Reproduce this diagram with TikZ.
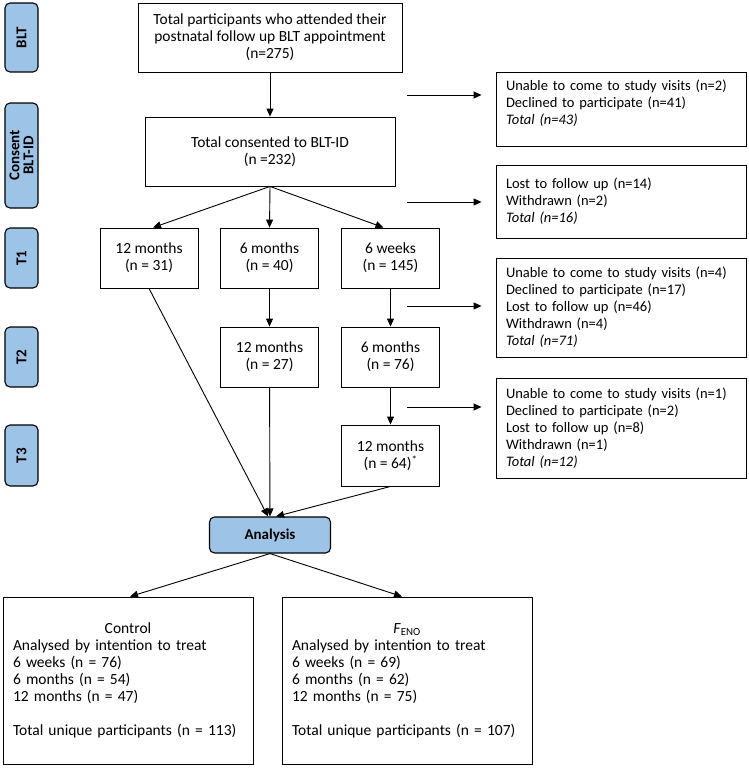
\documentclass[tikz,border=0pt]{standalone}
\usepackage{fontspec}
\setmainfont{Carlito}
\usetikzlibrary{arrows.meta}
\definecolor{phaseblue}{RGB}{157,195,230}
\begin{document}
\begin{tikzpicture}[x=1pt,y=-1pt,font=\fontsize{15.5}{17}\selectfont,
    box/.style={draw, line width=0.9pt, align=center, inner sep=0pt},
    stage/.style={box, minimum width=98pt, minimum height=60pt},
    phase/.style={draw, line width=1.1pt, fill=phaseblue, rounded corners=5pt, rotate=90, minimum height=33pt, inner sep=0pt, align=center, font=\fontsize{15}{14}\selectfont\bfseries},
    excl/.style={draw, line width=0.9pt, text width=230pt, align=left, inner xsep=10pt, inner ysep=0pt, font=\fontsize{14.5}{17}\selectfont},
    arr/.style={-{Triangle[length=8pt,width=7pt]}, line width=0.9pt}]
    \useasboundingbox (0,0) rectangle (749,768);
    % phases on the left
    \node[phase, minimum width=69pt] (blt) at (21.5,37.5) {BLT};
    \node[phase, minimum width=105pt] (cons) at (21.5,155.5) {Consent\\BLT-ID};
    \node[phase, minimum width=60pt] (ph1) at (21.5,258) {T1};
    \node[phase, minimum width=60pt] (ph2) at (21.5,357) {T2};
    \node[phase, minimum width=61pt] (ph3) at (21.5,455.5) {T3};
    % main flow
    \node[box, minimum width=264pt, minimum height=69pt] (total) at (270,37.5) {Total participants who attended their\\postnatal follow up BLT appointment\\(n=275)};
    \node[box, minimum width=250pt, minimum height=69pt] (consent) at (270,151.5) {Total consented to BLT-ID\\(n =232)};
    \node[stage] (twelveA) at (149,258) {12 months\\(n = 31)};
    \node[stage] (sixA) at (269.5,258) {6 months\\(n = 40)};
    \node[stage] (weeksA) at (390.5,258) {6 weeks\\(n = 145)};
    \node[stage] (twelveB) at (269.5,357) {12 months\\(n = 27)};
    \node[stage] (sixB) at (390.5,357) {6 months\\(n = 76)};
    \node[stage, minimum height=61pt] (twelveC) at (390.5,455.5) {12 months\\(n = 64)\textsuperscript{*}};
    \node[box, fill=phaseblue, rounded corners=5pt, line width=1.1pt, minimum width=121pt, minimum height=36pt, font=\fontsize{15}{17}\selectfont\bfseries] (analysis) at (270,535) {Analysis};
    \node[box, align=left, text width=230pt, inner xsep=10pt, minimum height=167pt] (control) at (128,680.5) {\makebox[230pt]{Control}\\Analysed by intention to treat\\6 weeks (n = 76)\\6 months (n = 54)\\12 months (n = 47)\\[17pt]Total unique participants (n = 113)};
    \node[box, align=left, text width=230pt, inner xsep=10pt, minimum height=167pt] (feno) at (407,680.5) {\makebox[230pt]{\textit{F}\textsubscript{ENO}}\\Analysed by intention to treat\\6 weeks (n = 69)\\6 months (n = 62)\\12 months (n = 75)\\[17pt]Total unique participants (n = 107)};
    % losses on the right
    \node[excl, minimum height=74pt] (lossA) at (621,109) {Unable to come to study visits (n=2)\\Declined to participate (n=41)\\\textit{Total (n=43)}\\[-3pt]\mbox{}};
    \node[excl, minimum height=73pt] (lossB) at (621,201.5) {Lost to follow up (n=14)\\Withdrawn (n=2)\\\textit{Total (n=16)}};
    \node[excl, minimum height=99pt] (lossC) at (621,307.5) {Unable to come to study visits (n=4)\\Declined to participate (n=17)\\Lost to follow up (n=46)\\Withdrawn (n=4)\\\textit{Total (n=71)}};
    \node[excl, minimum height=100pt] (lossD) at (621,428) {Unable to come to study visits (n=1)\\Declined to participate (n=2)\\Lost to follow up (n=8)\\Withdrawn (n=1)\\\textit{Total (n=12)}};
    \coordinate (outA) at (407,95);
    \coordinate (outB) at (407,202);
    \coordinate (outC) at (407,306);
    \coordinate (outD) at (407,407);
    \foreach \o/\l in {outA/lossA,outB/lossB,outC/lossC,outD/lossD}
        \draw[arr, shorten >=14pt] (\o) -- (\o -| \l.west);
    % arrows
    \draw[arr] (total) -- (consent);
    \draw[arr] (consent.south) -- ([xshift=4pt]twelveA.north);
    \draw[arr] (consent.south) -- (sixA.north);
    \draw[arr] (consent.south) -- ([xshift=-7pt]weeksA.north);
    \draw[arr] (sixA) -- (twelveB);
    \draw[arr] (weeksA) -- (sixB);
    \draw[arr] (sixB) -- (twelveC);
    \draw[arr] (twelveA.south) -- ([xshift=-2pt]analysis.north);
    \draw[arr] (twelveB) -- (analysis);
    \draw[arr] (twelveC.south) -- ([xshift=6pt]analysis.north);
    \draw[arr] (analysis.south) -- ([xshift=2pt]control.north);
    \draw[arr] (analysis.south) -- ([xshift=-5pt]feno.north);
\end{tikzpicture}
\end{document}
